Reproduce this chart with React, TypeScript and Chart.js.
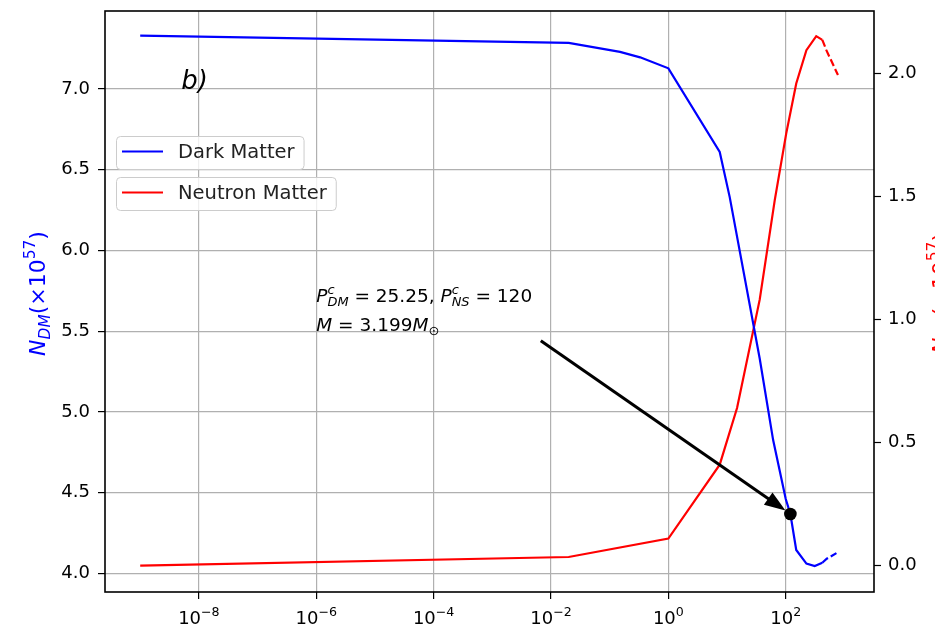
import React, { useEffect, useRef } from 'react';
import { Chart, registerables } from 'chart.js';
Chart.register(...registerables);

// ---------- data ----------
const X_TICKS = [1e-8, 1e-6, 1e-4, 1e-2, 1, 1e2];
const X_TICK_EXP = ['\u22128', '\u22126', '\u22124', '\u22122', '0', '2'];
const YL_TICKS = [4.0, 4.5, 5.0, 5.5, 6.0, 6.5, 7.0];
const YR_TICKS = [0.0, 0.5, 1.0, 1.5, 2.0];

const DM_X = [1e-9, 0.02, 0.15, 0.33, 1, 7.5, 11.1, 36, 61, 100, 120, 151, 225, 312, 420];
const DM_Y = [7.33, 7.285, 7.23, 7.196, 7.128, 6.61, 6.33, 5.33, 4.825, 4.46, 4.367, 4.144, 4.06, 4.045, 4.065];
const DM_DASH_X = [420, 500, 731];
const DM_DASH_Y = [4.065, 4.09, 4.125];

const NS_X = [1e-9, 0.02, 1, 7.5, 14.8, 36, 65, 102, 151, 225, 331, 420];
const NS_Y = [0.0, 0.035, 0.11, 0.41, 0.64, 1.08, 1.484, 1.755, 1.958, 2.093, 2.15, 2.135];
const NS_DASH_X = [420, 492, 776];
const NS_DASH_Y = [2.135, 2.093, 1.992];

const SERIES_LABELS = ['Dark Matter', 'Neutron Matter'];

// annotation anchors (data coordinates)
const MARK_POINT = { x: 120, y: 4.367 };
const ARROW_TAIL = { x: 0.0067, y: 5.44 };
const NOTE_ANCHOR = { x: 1e-6, y: 5.5 };
const PANEL_ANCHOR = { x: 5e-9, y: 7.0 };

// ---------- styling ----------
const X_MIN = Math.pow(10, -9.6);
const X_MAX = Math.pow(10, 3.504);
const YL_MIN = 3.884, YL_MAX = 7.483;
const YR_MIN = -0.107, YR_MAX = 2.252;
const FAM = '"DejaVu Sans"';
const GRID = '#b0b0b0';

type Seg = { t?: string; it?: boolean; sup?: string; sub?: string; supIt?: boolean; subIt?: boolean };

function fnt(size: number, it?: boolean) {
  return `${it ? 'italic ' : ''}${size}px ${FAM}`;
}
function measureRich(ctx: CanvasRenderingContext2D, segs: Seg[], size: number) {
  let w = 0;
  for (const s of segs) {
    if (s.t !== undefined) { ctx.font = fnt(size, s.it); w += ctx.measureText(s.t).width; }
    let sw = 0;
    if (s.sup) { ctx.font = fnt(size * 0.7, s.supIt); sw = Math.max(sw, ctx.measureText(s.sup).width); }
    if (s.sub) { ctx.font = fnt(size * 0.7, s.subIt); sw = Math.max(sw, ctx.measureText(s.sub).width); }
    w += sw;
  }
  return w;
}
function drawRich(ctx: CanvasRenderingContext2D, x: number, y: number, segs: Seg[], size: number, color: string) {
  ctx.fillStyle = color;
  ctx.textBaseline = 'alphabetic';
  ctx.textAlign = 'left';
  let cx = x;
  for (const s of segs) {
    if (s.t !== undefined) { ctx.font = fnt(size, s.it); ctx.fillText(s.t, cx, y); cx += ctx.measureText(s.t).width; }
    let sw = 0;
    if (s.sup) {
      ctx.font = fnt(size * 0.7, s.supIt);
      ctx.fillText(s.sup, cx, y - size * 0.45);
      sw = Math.max(sw, ctx.measureText(s.sup).width);
    }
    if (s.sub) {
      ctx.font = fnt(size * 0.7, s.subIt);
      ctx.fillText(s.sub, cx, y + size * 0.22);
      sw = Math.max(sw, ctx.measureText(s.sub).width);
    }
    cx += sw;
  }
}

const overlay = {
  id: 'overlay',
  afterDraw(chart: any) {
    const { ctx, chartArea: ca, scales } = chart;
    const xs = scales.x, yl = scales.y;
    ctx.save();

    // frame
    ctx.strokeStyle = '#000';
    ctx.lineWidth = 1.6;
    ctx.strokeRect(ca.left, ca.top, ca.right - ca.left, ca.bottom - ca.top);

    // x tick labels with superscripts
    X_TICKS.forEach((v, i) => {
      const segs: Seg[] = [{ t: '10', sup: X_TICK_EXP[i] }];
      const w = measureRich(ctx, segs, 18);
      drawRich(ctx, xs.getPixelForValue(v) - w / 2, ca.bottom + 32, segs, 18, '#000');
    });

    // axis titles
    const midY = (ca.top + ca.bottom) / 2;
    const lSegs: Seg[] = [{ t: 'N', it: true, sub: 'DM', subIt: true }, { t: '(\u00d710', sup: '57' }, { t: ')' }];
    const rSegs: Seg[] = [{ t: 'N', it: true, sub: 'NS', subIt: true }, { t: '(\u00d710', sup: '57' }, { t: ')' }];
    const tsize = 22;
    ctx.save();
    ctx.translate(45, midY - 8);
    ctx.rotate(-Math.PI / 2);
    drawRich(ctx, -measureRich(ctx, lSegs, tsize) / 2, 0, lSegs, tsize, '#0000ff');
    ctx.restore();
    ctx.save();
    ctx.translate(948, midY - 8);
    ctx.rotate(-Math.PI / 2);
    drawRich(ctx, -measureRich(ctx, rSegs, tsize) / 2, 0, rSegs, tsize, '#ff0000');
    ctx.restore();

    // panel label
    drawRich(ctx, xs.getPixelForValue(PANEL_ANCHOR.x), yl.getPixelForValue(PANEL_ANCHOR.y), [{ t: 'b)', it: true }], 26, '#000');

    // annotation text
    const nx = xs.getPixelForValue(NOTE_ANCHOR.x);
    const ny = yl.getPixelForValue(NOTE_ANCHOR.y);
    const asz = 18.5;
    drawRich(ctx, nx, ny - 29, [
      { t: 'P', it: true, sup: 'c', supIt: true, sub: 'DM', subIt: true },
      { t: ' = 25.25, ' },
      { t: 'P', it: true, sup: 'c', supIt: true, sub: 'NS', subIt: true },
      { t: ' = 120' },
    ], asz, '#000');
    drawRich(ctx, nx, ny, [
      { t: 'M', it: true },
      { t: ' = 3.199' },
      { t: 'M', it: true, sub: '\u2299' },
    ], asz, '#000');

    // arrow + point
    const px = xs.getPixelForValue(MARK_POINT.x), py = yl.getPixelForValue(MARK_POINT.y);
    const tx = xs.getPixelForValue(ARROW_TAIL.x), ty = yl.getPixelForValue(ARROW_TAIL.y);
    const dx = px - tx, dy = py - ty;
    const len = Math.hypot(dx, dy);
    const ux = dx / len, uy = dy / len;
    const tipX = px - ux * 6, tipY = py - uy * 6;
    const headL = 21, headW = 7.5;
    const bx = tipX - ux * headL, by = tipY - uy * headL;
    ctx.strokeStyle = '#000';
    ctx.lineWidth = 3;
    ctx.beginPath();
    ctx.moveTo(tx, ty);
    ctx.lineTo(bx + ux * 2, by + uy * 2);
    ctx.stroke();
    ctx.fillStyle = '#000';
    ctx.beginPath();
    ctx.moveTo(tipX, tipY);
    ctx.lineTo(bx - uy * headW, by + ux * headW);
    ctx.lineTo(bx + uy * headW, by - ux * headW);
    ctx.closePath();
    ctx.fill();
    ctx.beginPath();
    ctx.arc(px, py, 6.3, 0, Math.PI * 2);
    ctx.fill();

    // legends (two separate boxes)
    const colors = ['#0000ff', '#ff0000'];
    const lsize = 19.5;
    SERIES_LABELS.forEach((lab, i) => {
      const bxl = ca.left + 11;
      const btop = ca.top + 125 + i * 41;
      ctx.font = fnt(lsize);
      const w = 62 + ctx.measureText(lab).width + 9;
      const h = 33;
      ctx.beginPath();
      ctx.roundRect(bxl + 0.5, btop + 0.5, w, h, 4);
      ctx.fillStyle = 'rgba(255,255,255,0.8)';
      ctx.fill();
      ctx.strokeStyle = '#cccccc';
      ctx.lineWidth = 1;
      ctx.stroke();
      ctx.strokeStyle = colors[i];
      ctx.lineWidth = 2.2;
      ctx.beginPath();
      ctx.moveTo(bxl + 6, btop + 15.5);
      ctx.lineTo(bxl + 47, btop + 15.5);
      ctx.stroke();
      drawRich(ctx, bxl + 62, btop + 21.5, [{ t: lab }], lsize, '#222');
    });

    ctx.restore();
  },
};

function pts(xs: number[], ys: number[]) {
  return xs.map((x, i) => ({ x, y: ys[i] }));
}

function noPad(s: any) {
  s.paddingTop = 0;
  s.paddingBottom = 0;
  s.paddingLeft = 0;
  s.paddingRight = 0;
}

export default function App() {
  const ref = useRef<HTMLCanvasElement | null>(null);
  useEffect(() => {
    if (!ref.current) return;
    const tickFont = { family: FAM, size: 18 };
    const chart = new Chart(ref.current, {
      type: 'line',
      data: {
        datasets: [
          { label: SERIES_LABELS[0], data: pts(DM_X, DM_Y), yAxisID: 'y', borderColor: '#0000ff', borderWidth: 2.2, pointRadius: 0, tension: 0, fill: false },
          { label: SERIES_LABELS[0] + ' (dashed)', data: pts(DM_DASH_X, DM_DASH_Y), yAxisID: 'y', borderColor: '#0000ff', borderWidth: 2.2, borderDash: [7.4, 3.2], pointRadius: 0, tension: 0, fill: false },
          { label: SERIES_LABELS[1], data: pts(NS_X, NS_Y), yAxisID: 'y1', borderColor: '#ff0000', borderWidth: 2.2, pointRadius: 0, tension: 0, fill: false },
          { label: SERIES_LABELS[1] + ' (dashed)', data: pts(NS_DASH_X, NS_DASH_Y), yAxisID: 'y1', borderColor: '#ff0000', borderWidth: 2.2, borderDash: [7.4, 3.2], pointRadius: 0, tension: 0, fill: false },
        ],
      },
      options: {
        responsive: false,
        animation: false,
        events: [],
        parsing: false as any,
        layout: { padding: { top: 11, left: 0, right: 0, bottom: 0 } },
        plugins: { legend: { display: false }, tooltip: { enabled: false } },
        scales: {
          x: {
            type: 'logarithmic',
            position: 'bottom',
            min: X_MIN,
            max: X_MAX,
            afterBuildTicks: (s: any) => { s.ticks = X_TICKS.map((v) => ({ value: v })); },
            afterFit: (s: any) => { s.height = 39; noPad(s); },
            ticks: { callback: () => '', autoSkip: false, maxRotation: 0, font: tickFont },
            grid: { color: GRID, lineWidth: 1.2, tickColor: '#000', tickLength: 7, tickWidth: 1.2 },
            border: { display: false },
          },
          y: {
            type: 'linear',
            position: 'left',
            min: YL_MIN,
            max: YL_MAX,
            afterBuildTicks: (s: any) => { s.ticks = YL_TICKS.map((v) => ({ value: v })); },
            afterFit: (s: any) => { s.width = 105; noPad(s); },
            ticks: { callback: (v: any) => Number(v).toFixed(1), color: '#000', font: tickFont, padding: 8 },
            grid: { color: GRID, lineWidth: 1.2, tickColor: '#000', tickLength: 7, tickWidth: 1.2 },
            border: { display: false },
          },
          y1: {
            type: 'linear',
            position: 'right',
            min: YR_MIN,
            max: YR_MAX,
            afterBuildTicks: (s: any) => { s.ticks = YR_TICKS.map((v) => ({ value: v })); },
            afterFit: (s: any) => { s.width = 61; noPad(s); },
            ticks: { callback: (v: any) => Number(v).toFixed(1), color: '#000', font: tickFont, padding: 7 },
            grid: { drawOnChartArea: false, tickColor: '#000', tickLength: 7, tickWidth: 1.2 },
            border: { display: false },
          },
        },
      },
      plugins: [overlay],
    } as any);
    return () => chart.destroy();
  }, []);
  return (
    <div style={{ position: 'absolute', left: 0, top: 0, width: 935, height: 631, overflow: 'hidden', background: '#fff' }}>
      <canvas ref={ref} width={935} height={631} style={{ display: 'block' }} />
    </div>
  );
}
